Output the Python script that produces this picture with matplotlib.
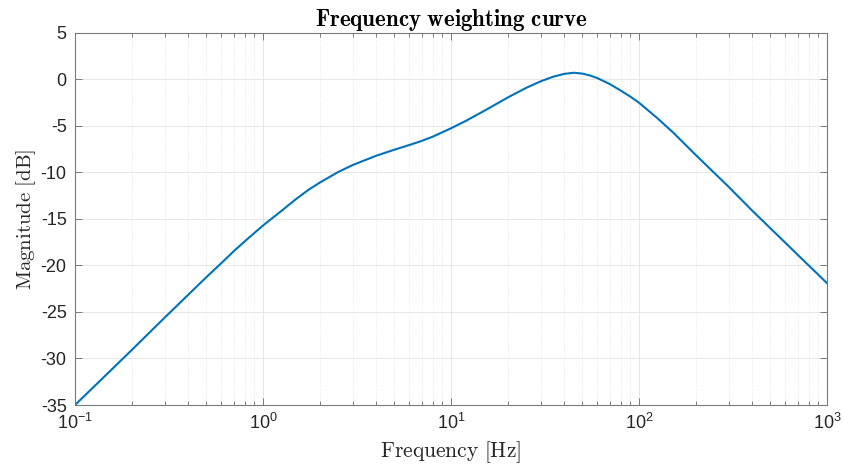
import matplotlib
matplotlib.use("Agg")
import matplotlib.pyplot as plt
from matplotlib.ticker import LogLocator, NullFormatter

plt.rcParams['font.family'] = ['Liberation Sans', 'DejaVu Sans']
plt.rcParams['mathtext.fontset'] = 'custom'
plt.rcParams['mathtext.rm'] = 'Liberation Sans'
plt.rcParams['mathtext.it'] = 'Liberation Sans:italic'
plt.rcParams['mathtext.bf'] = 'Liberation Sans:bold'
plt.rcParams['mathtext.sf'] = 'Liberation Sans'
plt.rcParams['axes.unicode_minus'] = False

# Data
freq_hz = [0.1, 0.15, 0.2, 0.3, 0.4, 0.5, 0.6, 0.7, 0.8, 1.0, 1.25, 1.5, 1.75, 2, 2.5, 3, 4, 5, 6, 7, 8,
           10, 12, 15, 20, 25, 30, 35, 40, 45, 50, 55, 60, 70, 80, 90, 100, 125, 150, 200, 250,
           300, 400, 500, 600, 700, 800, 900, 1000]
magnitude_db = [-35.0, -31.55, -29.1, -25.6, -23.15, -21.25, -19.75, -18.45, -17.4, -15.7, -14.15,
                -12.85, -11.85, -11.1, -9.97, -9.2, -8.2, -7.55, -7.05, -6.6, -6.15, -5.25, -4.45,
                -3.38, -1.95, -0.92, -0.2, 0.3, 0.6, 0.72, 0.63, 0.42, 0.15, -0.5, -1.2, -1.85,
                -2.5, -4.15, -5.6, -8.1, -10.0, -11.55, -14.1, -16.0, -17.55, -18.87, -20.0, -21.0,
                -21.9]

y_ticks = [-35, -30, -25, -20, -15, -10, -5, 0, 5]
title_text = r'$\mathbf{Frequency\ weighting\ curve}$'
xlabel_text = r'$\mathrm{Frequency\ [Hz]}$'
ylabel_text = r'$\mathrm{Magnitude\ [dB]}$'

fig = plt.figure(figsize=(8.43, 4.68), dpi=100)
ax = fig.add_axes([0.089, 0.1346, 0.892, 0.795])

ax.semilogx(freq_hz, magnitude_db, color='#0072BD', lw=1.5, solid_joinstyle='round')
ax.set_xlim(0.1, 1000)
ax.set_ylim(-35, 5)
ax.set_yticks(y_ticks)
ax.set_yticklabels([str(v) for v in y_ticks])

ax.xaxis.set_major_locator(LogLocator(base=10, numticks=10))
ax.xaxis.set_minor_locator(LogLocator(base=10, subs=range(2, 10), numticks=20))
ax.xaxis.set_minor_formatter(NullFormatter())

ax.grid(True, which='major', color='#e6e6e6', lw=0.7, ls='-')
ax.grid(True, which='minor', axis='x', color='#e8e8e8', lw=0.7, ls=(0, (1, 1.5)))
ax.set_axisbelow(True)

edge = '#7a7a7a'
for s in ax.spines.values():
    s.set_color(edge)
    s.set_linewidth(0.8)
ax.tick_params(which='both', direction='in', top=True, right=True, color=edge,
               labelcolor='#262626', labelsize=13, width=0.7)
ax.tick_params(which='major', length=5, pad=6)
ax.tick_params(which='minor', length=3)

ax.set_title(title_text, fontsize=16.5, math_fontfamily='cm', pad=5, color='#000000')
ax.set_xlabel(xlabel_text, fontsize=15.5, math_fontfamily='cm', color='#262626', labelpad=4)
ax.set_ylabel(ylabel_text, fontsize=15, math_fontfamily='cm', color='#262626', labelpad=2)

fig.savefig('out.png', dpi=100)
